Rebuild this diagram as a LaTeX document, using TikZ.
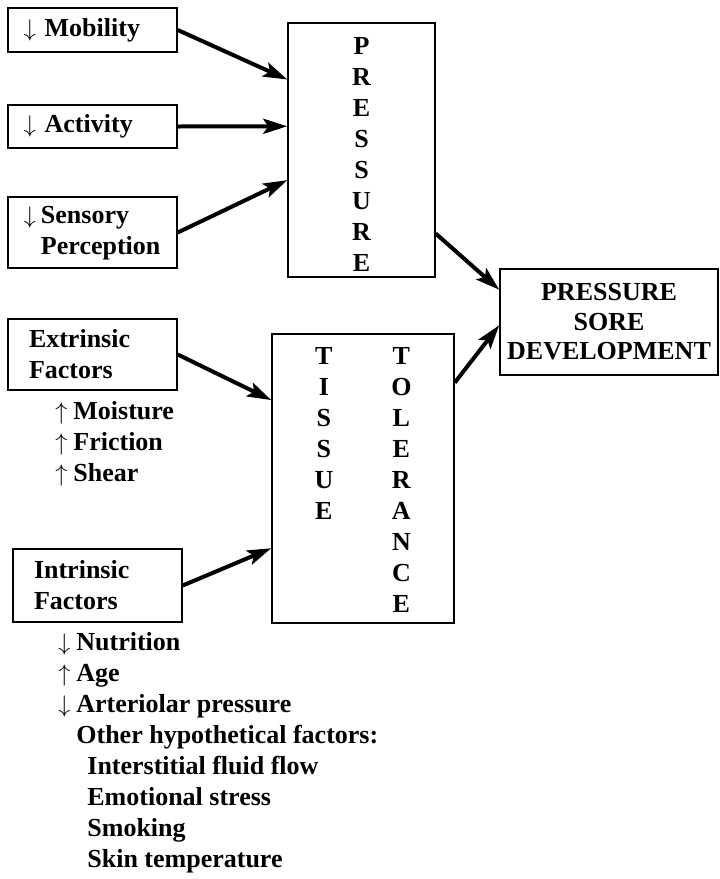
\documentclass[tikz,border=0pt]{standalone}
\usepackage{fontspec}
\setmainfont{Liberation Serif}
\usetikzlibrary{calc}
\usetikzlibrary{arrows.meta}
\newcommand{\decarrow}{$\downarrow$}
\newcommand{\incarrow}{$\uparrow$}
\tikzset{
    edgeCause/.style={
        arrows={-{Stealth[length=12pt,width=7.5pt,inset=2.5pt]}},
        line width=2pt
    },
    boxFactor/.style={
        draw,
        line width=0.75pt,
        inner xsep=8pt,
        inner ysep=0pt,
        text width=68.5pt,
        align=left
    },
    boxGroup/.style={
        draw,
        line width=0.75pt,
        inner xsep=10.5pt,
        inner ysep=0pt,
        text width=63.5pt,
        align=left
    },
    boxCentral/.style={
        draw,
        line width=0.75pt,
        inner sep=0pt,
        align=center
    },
    nodeList/.style={
        anchor=west,
        inner sep=0pt
    },
}

\begin{document}
\begin{tikzpicture}[x=0.5pt,y=-0.5pt,font=\fontsize{13}{15.5}\selectfont\bfseries]
    \useasboundingbox (0, 0) rectangle (719, 879);

    % causes of pressure
    \node[boxFactor,minimum height=22pt] (mobility) at (92.5, 30) {\decarrow{} Mobility};
    \node[boxFactor,minimum height=21.5pt] (activity) at (92.5, 126.5) {\decarrow{} Activity};
    \node[boxFactor,minimum height=35.5pt] (sensory) at (92.5, 232.5)
        {\begin{tabular}{@{}l@{\hspace{2.5pt}}l@{}}\decarrow & Sensory\\ & Perception\end{tabular}};

    \node[boxCentral,minimum width=73.5pt,minimum height=127pt] (pressure) at (361.5, 150)
        {\raisebox{-3.5pt}[\height][\depth]{\begin{tabular}{@{}c@{}}P\\R\\E\\S\\S\\U\\R\\E\end{tabular}}};

    \node[boxCentral,minimum width=109pt,minimum height=53pt,font=\fontsize{13}{14.75}\selectfont\bfseries] (sore) at (609, 322)
        {PRESSURE\\SORE\\DEVELOPMENT};

    % tissue tolerance
    \node[boxGroup,minimum height=35.5pt] (extrinsic) at (92.5, 354.5) {Extrinsic\\Factors};
    \node[nodeList] (extrinsicList) at (55, 444)
        {\begin{tabular}{@{}l@{\hspace{3pt}}l@{}}\incarrow & Moisture\\ \incarrow & Friction\\ \incarrow & Shear\end{tabular}};

    \node[boxGroup,minimum height=36.5pt] (intrinsic) at (97.5, 585.5) {Intrinsic\\Factors};
    \node[nodeList] (intrinsicList) at (58, 753)
        {\begin{tabular}{@{}l@{\hspace{3pt}}l@{}}
            \decarrow & Nutrition\\
            \incarrow & Age\\
            \decarrow & Arteriolar pressure\\
             & Other hypothetical factors:\\
             & \hspace*{5.5pt}Interstitial fluid flow\\
             & \hspace*{5.5pt}Emotional stress\\
             & \hspace*{5.5pt}Smoking\\
             & \hspace*{5.5pt}Skin temperature
        \end{tabular}};

    \node[boxCentral,minimum width=91pt,minimum height=144.5pt] (tissue) at (363, 478.5)
        {\raisebox{-2pt}[\height][\depth]{\begin{tabular}{@{}c@{\hspace{29pt}}c@{}}
            T & T\\ I & O\\ S & L\\ S & E\\ U & R\\ E & A\\ & N\\ & C\\ & E
        \end{tabular}}};

    \draw[edgeCause] (mobility.east) -- ($(pressure.north west)!0.224!(pressure.south west)$);
    \draw[edgeCause] (activity.east) -- ($(pressure.north west)!0.407!(pressure.south west)$);
    \draw[edgeCause] (sensory.east) -- ($(pressure.north west)!0.618!(pressure.south west)$);

    \draw[edgeCause] (extrinsic.east) -- ($(tissue.north west)!0.23!(tissue.south west)$);
    \draw[edgeCause] (intrinsic.east) -- ($(tissue.north west)!0.74!(tissue.south west)$);

    \draw[edgeCause] ($(pressure.north east)!0.827!(pressure.south east)$) -- ($(sore.north west)!0.2!(sore.south west)$);
    \draw[edgeCause] ($(tissue.north east)!0.17!(tissue.south east)$) -- ($(sore.north west)!0.53!(sore.south west)$);
\end{tikzpicture}
\end{document}
